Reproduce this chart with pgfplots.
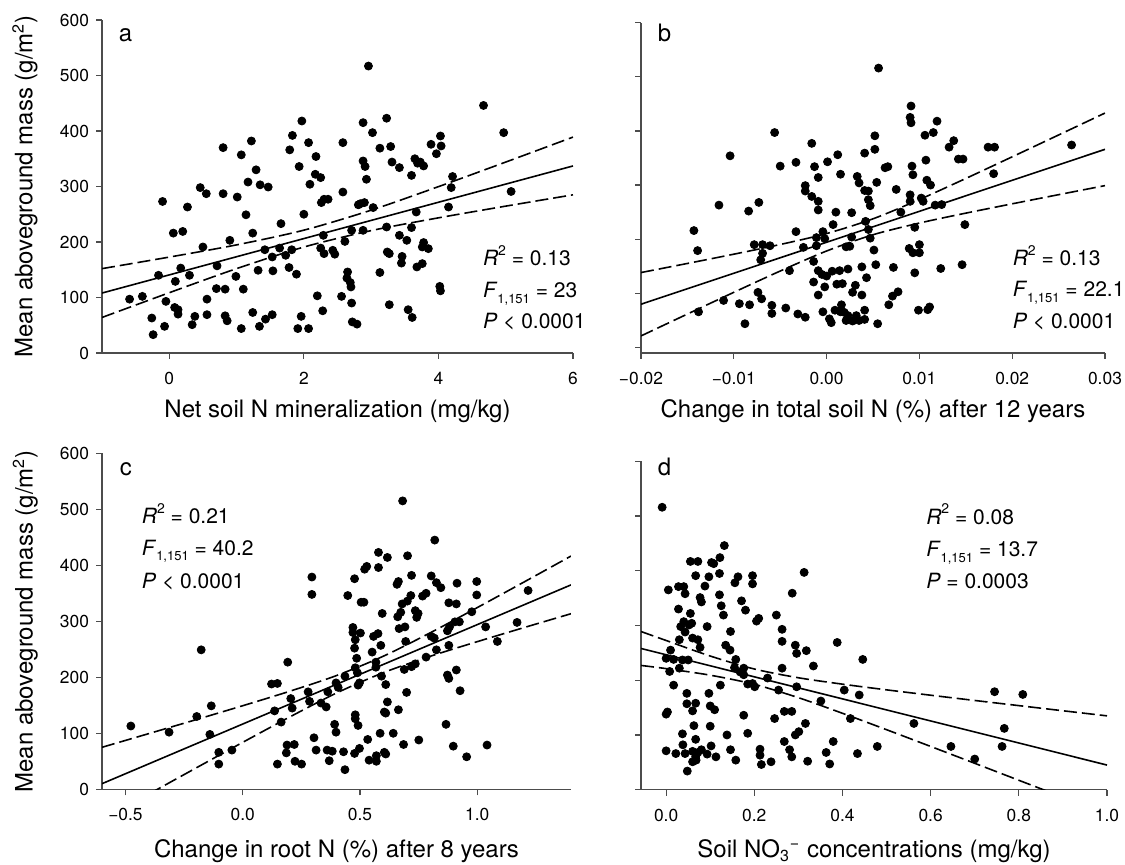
\documentclass[border=0pt]{standalone}
\usepackage{fontspec}
\setmainfont{TeX Gyre Heros}
\usepackage{pgfplots}
\pgfplotsset{compat=1.18}

\pgfplotsset{
  panel/.style={
    scale only axis,
    axis lines*=left,
    axis line style={draw=black!70, line width=0.6pt},
    tick align=outside,
    major tick length=3pt,
    tick style={draw=black!70, line width=0.6pt},
    scaled x ticks=false,
    scaled y ticks=false,
    /pgf/number format/assume math mode=true,
    tick label style={font=\fontsize{8.7}{10}\selectfont},
    xticklabel style={yshift=-3pt},
    label style={font=\fontsize{12}{14}\selectfont},
    xlabel style={at={(axis description cs:0.5,0)}, anchor=base, yshift=-32.5pt},
    ylabel style={at={(axis description cs:-0.1635,0.5)}, anchor=center},
    ytick={0,100,...,600},
    clip mode=individual,
  },
  dots/.style={only marks, mark=*, mark size=2pt, black},
  fit/.style={black, line width=0.8pt, no marks},
  band/.style={black, line width=0.8pt, no marks, smooth, dash pattern=on 6.5pt off 2.5pt},
}
\newcommand{\lett}[1]{{\fontsize{12}{14}\selectfont #1}}
\newcommand{\stat}[1]{{\fontsize{10.5}{12}\selectfont #1}}
\newcommand{\sub}[1]{\raisebox{-0.5ex}{\fontsize{6.5}{7}\selectfont #1}}
\newcommand{\sups}[1]{\raisebox{0.95ex}{\fontsize{7}{8}\selectfont #1}}

\begin{document}
\begin{tikzpicture}
\useasboundingbox (0,0) rectangle (562.5pt,432.5pt);

% ---------------- a
\begin{axis}[panel, at={(51pt,256pt)}, anchor=south west,
  width=235.5pt, height=166.5pt,
  xmin=-1, xmax=6, ymin=0, ymax=600,
  xtick={0,2,4,6},
  xlabel={Net soil N mineralization (mg/kg)},
  ylabel={Mean aboveground mass (g/m\textsuperscript{2})}]
\addplot[dots] table {
2.96 517
1.97 418
3.23 423
2.88 415
1.83 392
3.02 397
1.22 382
2.07 379
2.58 379
0.80 370
1.07 357
1.79 366
3.13 369
2.18 354
3.29 372
2.88 346
2.91 336
1.93 336
1.29 330
2.17 322
2.25 316
1.17 308
1.35 303
1.47 299
2.93 313
0.46 298
0.55 287
0.80 287
1.01 281
2.09 304
2.58 290
-0.10 273
0.27 263
2.30 277
2.36 277
2.26 271
2.84 269
2.90 271
2.81 267
3.03 262
1.14 249
2.00 250
1.66 233
0.06 216
0.20 219
1.24 216
3.23 227
2.71 221
2.88 221
0.90 203
2.29 212
2.61 201
0.50 191
1.42 186
1.64 189
1.82 186
2.25 189
2.30 179
2.43 185
2.46 178
1.53 173
1.73 176
3.24 182
0.71 157
0.17 153
1.78 154
1.32 149
1.54 148
1.89 142
-0.16 140
0.30 140
0.99 138
0.09 129
3.13 145
2.65 146
2.64 135
2.69 127
2.70 119
0.70 116
0.83 115
1.10 115
2.20 103
2.56 102
-0.59 97
-0.40 102
0.56 97
-0.05 93
2.71 90
3.27 87
0.08 82
0.13 78
0.13 70
2.28 76
1.24 73
0.56 69
0.38 66
0.83 67
0.86 58
1.53 69
1.43 61
1.96 66
-0.26 63
2.72 56
2.79 52
-0.07 48
0.34 51
1.07 44
1.34 48
1.91 44
2.07 44
-0.24 33
4.67 446
4.97 397
4.03 391
4.04 373
3.97 359
3.89 376
3.65 350
3.69 342
3.78 337
3.73 344
3.60 320
3.31 344
3.42 334
4.21 318
4.19 298
5.08 291
4.15 263
3.67 254
3.60 226
3.42 212
3.53 203
3.78 199
3.76 191
3.85 188
3.27 179
3.46 174
3.45 162
3.68 155
3.76 161
4.02 120
4.03 112
3.55 78
3.61 64
};
\addplot[fit] coordinates {(-1,108) (6,337)};
\addplot[band] coordinates {(-1,152.0) (0,172.8) (1,194.8) (2,221.3) (3,257.3) (4,299.7) (5,344.0) (6,389.0)};
\addplot[band] coordinates {(-1,64.0) (0,108.6) (1,152.0) (2,190.9) (3,220.5) (4,243.5) (5,264.6) (6,285.0)};
\node[anchor=base west] at (rel axis cs:0.021,0.935) {\lett{a}};
\node[anchor=base west] at (rel axis cs:0.794,0.262) {\stat{\textit{R}\sups{2} = 0.13}};
\node[anchor=base west] at (rel axis cs:0.794,0.166) {\stat{\textit{F}\sub{1,151} = 23}};
\node[anchor=base west] at (rel axis cs:0.794,0.074) {\stat{\textit{P} < 0.0001}};
\end{axis}

% ---------------- b
\begin{axis}[panel, at={(320.5pt,256pt)}, anchor=south west,
  width=232pt, height=165.2pt,
  xmin=-0.02, xmax=0.03, ymin=-10, ymax=600,
  xtick={-0.02,-0.01,0,0.01,0.02,0.03},
  xticklabels={−0.02,−0.01,0.00,0.01,0.02,0.03},
  yticklabels={},
  xlabel={Change in total soil N (\%) after 12 years}]
\addplot[dots] table {
-0.0056 397
-0.0104 354
-0.0016 377
0.0012 356
-0.0050 335
-0.0033 342
-0.0013 334
0.0001 343
0.0015 320
-0.0009 314
0.0033 316
0.0035 304
-0.0023 299
-0.0023 289
-0.0016 279
-0.0009 270
-0.0009 254
-0.0116 263
-0.0073 268
-0.0084 252
0.0010 250
0.0027 249
-0.0143 216
-0.0139 179
-0.0033 214
-0.0004 214
-0.0002 201
0.0007 227
-0.0078 190
-0.0069 190
-0.0061 188
-0.0069 174
-0.0071 162
-0.0025 185
-0.0011 203
-0.0011 188
0.0027 204
0.0021 186
0.0025 187
-0.0014 159
-0.0040 142
-0.0009 142
-0.0005 135
0.0000 132
-0.0002 112
0.0006 141
0.0014 142
0.0023 145
-0.0014 121
-0.0009 97
0.0011 117
0.0017 118
0.0031 115
0.0028 102
-0.0074 102
-0.0070 90
-0.0111 87
-0.0094 81
-0.0083 79
-0.0059 78
-0.0059 63
-0.0044 73
-0.0031 62
-0.0023 56
-0.0138 66
-0.0088 44
-0.0004 66
0.0009 69
0.0016 79
0.0015 66
0.0019 65
0.0023 59
0.0021 50
0.0028 49
0.0032 59
0.0035 50
0.0003 53
0.0005 46
0.0056 516
0.0052 391
0.0052 366
0.0041 359
0.0054 305
0.0041 290
0.0045 289
0.0045 273
0.0047 262
0.0042 233
0.0045 218
0.0047 202
0.0051 180
0.0038 149
0.0053 153
0.0043 129
0.0038 97
0.0041 69
0.0041 52
0.0055 44
0.0091 446
0.0090 425
0.0091 415
0.0119 418
0.0106 392
0.0115 397
0.0137 382
0.0132 370
0.0142 348
0.0147 348
0.0174 370
0.0181 370
0.0264 374
0.0180 321
0.0063 332
0.0066 334
0.0092 335
0.0093 319
0.0107 346
0.0075 292
0.0108 309
0.0112 300
0.0090 282
0.0090 270
0.0102 276
0.0104 270
0.0080 250
0.0117 263
0.0124 264
0.0095 222
0.0149 227
0.0089 183
0.0093 175
0.0100 190
0.0100 175
0.0072 148
0.0095 138
0.0123 146
0.0146 153
0.0071 95
0.0067 79
0.0077 103
0.0099 69
0.0109 70
0.0111 75
};
\addplot[fit] coordinates {(-0.02,80) (0.03,366)};
\addplot[band] coordinates {(-0.02,138.5) (-0.015,155.3) (-0.01,172.4) (-0.005,190.3) (0,210.5) (0.005,237.7) (0.01,273.3) (0.015,312.2) (0.02,352.2) (0.025,392.5) (0.03,433.0)};
\addplot[band] coordinates {(-0.02,21.5) (-0.015,61.9) (-0.01,102.0) (-0.005,141.3) (0,178.3) (0.005,208.3) (0.01,229.9) (0.015,248.2) (0.02,265.4) (0.025,282.3) (0.03,299.0)};
\node[anchor=base west] at (rel axis cs:0.021,0.9425) {\lett{b}};
\node[anchor=base west] at (rel axis cs:0.786,0.264) {\stat{\textit{R}\sups{2} = 0.13}};
\node[anchor=base west] at (rel axis cs:0.786,0.170) {\stat{\textit{F}\sub{1,151} = 22.1}};
\node[anchor=base west] at (rel axis cs:0.786,0.075) {\stat{\textit{P} < 0.0001}};
\end{axis}

% ---------------- c
\begin{axis}[panel, at={(51pt,37.85pt)}, anchor=south west,
  width=234.5pt, height=168pt,
  xmin=-0.6, xmax=1.4, ymin=0, ymax=600,
  xtick={-0.5,0,0.5,1},
  xticklabels={−0.5,0.0,0.5,1.0},
  xlabel style={yshift=-1.5pt},
  xlabel={Change in root N (\%) after 8 years},
  ylabel={Mean aboveground mass (g/m\textsuperscript{2})}]
\addplot[dots] table {
-0.477 113
-0.314 102
-0.177 249
-0.196 130
-0.134 149
-0.140 98
-0.102 66
-0.102 45
-0.046 70
0.295 379
0.295 348
0.192 227
0.123 188
0.148 189
0.136 140
0.164 120
0.205 162
0.211 145
0.189 79
0.186 65
0.220 80
0.223 50
0.251 45
0.148 45
0.279 174
0.304 92
0.285 157
0.313 70
0.334 154
0.356 147
0.363 174
0.360 70
0.382 68
0.369 51
0.398 190
0.407 182
0.392 116
0.398 102
0.436 35
0.436 202
0.448 346
0.430 67
0.477 376
0.470 289
0.470 280
0.480 267
0.477 252
0.486 234
0.480 217
0.489 208
0.492 186
0.498 190
0.480 133
0.480 126
0.492 114
0.477 64
0.498 73
0.505 334
0.517 334
0.502 279
0.520 393
0.529 398
0.579 396
0.577 278
0.558 273
0.552 245
0.533 89
0.568 227
0.568 218
0.539 52
0.570 60
0.570 50
0.586 100
0.604 66
0.610 63
0.589 257
0.595 314
0.592 202
0.610 187
0.610 136
0.617 156
0.604 138
0.642 100
0.667 287
0.658 366
0.664 371
0.664 142
0.686 80
0.661 308
0.680 331
0.674 316
0.692 290
0.695 264
0.699 173
0.689 214
0.702 336
0.717 346
0.720 382
0.720 219
0.736 224
0.736 319
0.742 307
0.748 314
0.751 88
0.767 345
0.782 350
0.782 236
0.804 381
0.826 369
0.845 360
0.804 273
0.817 270
0.826 249
0.879 333
0.882 290
0.873 283
0.879 257
0.867 116
0.898 77
0.911 331
0.914 368
0.905 299
0.924 299
0.873 204
0.879 198
0.911 213
0.927 176
0.998 371
0.998 347
0.977 317
1.036 290
1.042 79
0.955 58
1.086 264
1.170 298
1.217 355
0.579 423
0.617 414
0.682 515
0.819 445
0.703 417
};
\addplot[fit] coordinates {(-0.6,10) (1.4,365)};
\addplot[band] coordinates {(-0.6,75) (-0.4,99.5) (-0.2,124.2) (0,149.2) (0.2,175) (0.4,203.1) (0.6,237.7) (0.8,279.5) (1.0,324.4) (1.2,370.2) (1.4,416.5)};
\addplot[band] coordinates {(-0.6,-55) (-0.4,-8.5) (-0.2,37.8) (0,83.8) (0.2,129) (0.4,171.9) (0.6,208.3) (0.8,237.5) (1.0,263.6) (1.2,288.8) (1.4,313.5)};
\node[anchor=base west] at (rel axis cs:0.023,0.935) {\lett{c}};
\node[anchor=base west] at (rel axis cs:0.070,0.790) {\stat{\textit{R}\sups{2} = 0.21}};
\node[anchor=base west] at (rel axis cs:0.070,0.697) {\stat{\textit{F}\sub{1,151} = 40.2}};
\node[anchor=base west] at (rel axis cs:0.070,0.598) {\stat{\textit{P} < 0.0001}};
\end{axis}

% ---------------- d
\begin{axis}[panel, at={(320.5pt,37.65pt)}, anchor=south west,
  width=233pt, height=164.2pt,
  xmin=-0.057, xmax=1.0, ymin=0, ymax=600,
  xtick={0,0.2,0.4,0.6,0.8,1.0},
  xticklabels={0.0,0.2,0.4,0.6,0.8,1.0},
  yticklabels={},
  xlabel style={yshift=-1.5pt},
  xlabel={Soil NO\textsubscript{3}\textsuperscript{−} concentrations (mg/kg)}]
\addplot[dots] table {
0.000 138
0.003 142
0.000 71
0.008 216
0.010 255
0.000 240
0.017 238
0.017 191
0.030 222
0.022 66
0.030 274
0.040 307
0.033 298
0.052 301
0.037 237
0.050 237
0.058 304
0.005 365
0.028 371
0.043 358
0.028 330
0.040 371
0.043 288
0.055 322
0.060 277
0.037 102
0.038 82
0.043 66
0.047 176
0.047 157
0.060 144
0.067 158
0.063 117
0.067 92
0.060 70
0.067 60
0.072 68
0.080 73
0.048 34
0.060 51
0.068 54
0.072 417
0.067 391
0.077 351
0.080 343
0.088 372
0.097 389
0.108 413
0.072 274
0.077 260
0.093 298
0.097 176
0.100 153
0.110 146
0.100 116
0.102 80
0.093 65
0.113 60
0.121 395
0.121 356
0.125 336
0.130 319
0.123 191
0.135 264
0.145 255
0.146 289
0.138 100
0.146 73
0.156 378
0.163 389
0.158 238
0.155 223
0.168 215
0.176 222
0.176 210
0.158 54
0.171 345
0.180 328
0.185 193
0.176 136
0.185 103
0.196 376
0.196 391
0.196 194
0.201 188
0.210 313
0.205 308
0.213 74
0.213 63
0.216 46
0.230 204
0.238 51
0.246 130
0.250 319
0.255 182
0.263 293
0.263 271
0.263 222
0.268 143
0.285 143
0.268 88
0.280 73
0.285 60
0.293 100
0.301 106
0.286 359
0.293 264
0.296 249
0.313 397
0.318 254
0.316 121
0.321 52
0.296 188
0.334 226
0.351 162
0.363 68
0.371 47
0.379 88
0.388 269
0.404 182
0.418 130
0.434 66
0.438 173
0.446 238
0.479 79
0.562 121
0.646 79
0.700 56
0.745 179
0.762 79
0.767 112
0.809 174
-0.009 516
0.132 446
0.055 417
0.103 415
0.122 424
};
\addplot[fit] coordinates {(-0.057,258) (1.0,45)};
\addplot[band] coordinates {(-0.057,289) (0,272.6) (0.1,244.2) (0.2,220.5) (0.3,204.5) (0.4,192.8) (0.5,182.4) (0.6,172.6) (0.7,163.0) (0.8,153.6) (0.9,144.2) (1.0,134.9)};
\addplot[band] coordinates {(-0.057,227) (0,221.2) (0.1,209.2) (0.2,192.5) (0.3,168.1) (0.4,139.6) (0.5,109.6) (0.6,79.0) (0.7,48.2) (0.8,17.2) (0.9,-13.8) (1.0,-44.9)};
\node[anchor=base west] at (rel axis cs:0.021,0.958) {\lett{d}};
\node[anchor=base west] at (rel axis cs:0.597,0.809) {\stat{\textit{R}\sups{2} = 0.08}};
\node[anchor=base west] at (rel axis cs:0.597,0.710) {\stat{\textit{F}\sub{1,151} = 13.7}};
\node[anchor=base west] at (rel axis cs:0.597,0.613) {\stat{\textit{P} = 0.0003}};
\end{axis}
\end{tikzpicture}
\end{document}
